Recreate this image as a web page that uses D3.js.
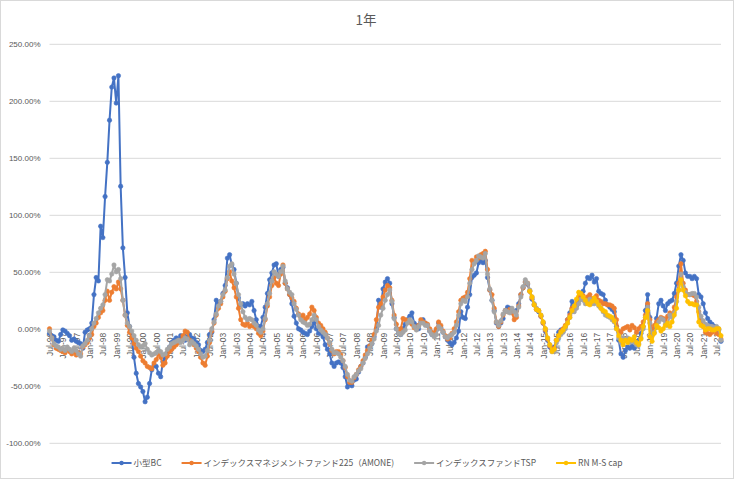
<!DOCTYPE html>
<html><head><meta charset="utf-8">
<script src="https://cdn.jsdelivr.net/npm/d3@7/dist/d3.min.js"></script>
<style>
body{margin:0;background:#fff}
svg{display:block}
text{fill:#595959}
</style>
</head><body>
<svg id="chart" width="734" height="479"></svg>
<script>
// ---------- data ----------
const chartTitle = "1年";
const seriesNames = ["小型BC", "インデックスマネジメントファンド225（AMONE)", "インデックスファンドTSP", "RN M-S cap"];
const seriesColors = ["#4472C4", "#ED7D31", "#A5A5A5", "#FFC000"];
const firstMonth = [1996, 7];   // Jul-96
const lastMonth = [2021, 9];    // Sep-21
const rnStartLabel = "Jul-14";  // first month of RN M-S cap
const yTicks = [-100, -50, 0, 50, 100, 150, 200, 250];
const tickLabels = ["Jul-96","Jan-97","Jul-97","Jan-98","Jul-98","Jan-99","Jul-99","Jan-00","Jul-00","Jan-01","Jul-01","Jan-02","Jul-02","Jan-03","Jul-03","Jan-04","Jul-04","Jan-05","Jul-05","Jan-06","Jul-06","Jan-07","Jul-07","Jan-08","Jul-08","Jan-09","Jul-09","Jan-10","Jul-10","Jan-11","Jul-11","Jan-12","Jul-12","Jan-13","Jul-13","Jan-14","Jul-14","Jan-15","Jul-15","Jan-16","Jul-16","Jan-17","Jul-17","Jan-18","Jul-18","Jan-19","Jul-19","Jan-20","Jul-20","Jan-21","Jul-21"];

const smallBC = [
-4,-6,-7,-10,-11,-5,-1,-2,-4,-6,-10,-9,-11,-12,-13,-17,-3,-1,0,
5,30,45,42,90,80,116,146,183,212,220,198,222,125,71,45,14,2,
-8,-25,-39,-48,-51,-55,-64,-60,-48,-36,-32,-33,-39,-42,-29,-26,-21,-16,-12,
-10,-8,-9,-6,-8,-10,-7,-5,-8,-9,-12,-14,-19,-20,-18,-12,-5,
-3,8,25,22,24,31,38,62,65,56,52,40,27,21,22,20,22,21,
24,16,8,2,2,10,19,31,43,49,56,57,46,52,54,40,36,30,22,11,5,0,-1,-3,-4,-5,-2,2,6,0,-4,-4,-7,-14,-18,-22,-30,-33,-30,-29,-30,-34,-42,-51,-48,
-50,-45,-44,-38,-33,-30,-25,-16,-15,-13,-7,0,25,19,35,41,44,40,22,10,0,-4,-5,0,4,8,11,14,5,3,0,6,8,5,3,-2,-5,-6,-1,5,1,-3,-7,-10,-12,
-14,-12,-8,-2,15,10,9,19,30,45,47,49,58,60,58,60,45,34,25,16,5,2,5,9,16,19,18,16,15,16,22,30,36,41,39,33,26,21,17,15,11,5,-2,-10,-16,
-18,-16,-10,-3,-1,-2,2,8,14,24,18,20,25,31,33,40,45,44,47,41,44,33,31,30,25,21,19,17,15,2,-10,-22,-25,-19,-16,-17,-15,-17,-13,-10,
-4,2,16,30,10,-5,0,9,22,25,20,16,22,24,25,31,40,55,65,60,49,46,46,44,46,44,30,28,22,14,9,6,4,2,0,-1,-11];

const amone225 = [
0,-8,-14,-17,-18,-19,-20,-21,-18,-20,-22,-20,-23,-21,-22,-16,-14,-12,-8,
-5,2,5,10,14,16,25,33,25,32,37,35,41,35,25,12,3,-3,
-8,-13,-17,-20,-24,-28,-30,-33,-34,-35,-30,-27,-22,-25,-32,-30,-24,-20,-18,
-16,-14,-12,-10,-6,-2,-3,-10,-12,-14,-17,-20,-25,-30,-32,-24,-12,
-2,5,12,18,22,28,33,44,50,42,36,28,18,8,4,3,5,2,
3,2,0,-4,-6,-2,8,20,28,38,45,40,38,48,56,40,35,30,27,24,18,13,10,12,8,10,13,19,16,10,5,3,0,-3,-8,-13,-19,-22,-20,-20,-23,-28,-34,-42,-47,
-47,-43,-40,-36,-33,-28,-23,-19,-15,-10,-5,8,19,22,28,34,38,36,25,12,4,-1,0,9,8,7,6,4,1,0,3,8,6,5,4,0,-3,-4,0,6,3,-2,-6,-9,-8,
-4,0,6,15,25,27,28,32,44,60,58,63,62,65,66,68,52,34,30,18,6,2,6,12,16,15,17,14,8,10,20,30,36,41,40,33,27,21,17,16,11,5,-1,-9,-15,
-18,-17,-10,-6,-2,0,3,8,12,18,17,22,28,30,29,26,28,30,26,27,29,25,24,22,22,21,21,20,18,8,-2,-3,0,1,2,-1,3,1,-3,0,
2,6,12,22,8,-2,3,6,8,10,9,8,11,14,12,19,28,40,57,40,34,30,30,30,29,24,15,8,2,-3,-4,-5,-3,-1,-4,-5,-9];

const indexTSP = [
-2,-8,-13,-15,-16,-18,-17,-19,-16,-18,-20,-17,-19,-22,-24,-15,-13,-10,-6,
0,5,9,14,18,21,30,43,42,48,56,50,52,44,25,12,5,2,
-2,-6,-10,-14,-16,-15,-13,-18,-21,-23,-22,-21,-19,-20,-23,-22,-18,-16,-13,
-12,-11,-10,-12,-10,-8,-9,-14,-11,-13,-15,-18,-22,-25,-24,-19,-10,
0,6,13,20,24,30,34,45,55,57,48,40,30,22,15,10,8,9,
8,5,3,-1,-3,0,9,22,31,42,50,48,46,50,55,42,35,32,30,22,17,12,8,6,5,3,4,8,12,8,2,-1,-3,-5,-8,-12,-18,-21,-21,-22,-25,-28,-33,-40,-45,
-46,-42,-40,-37,-35,-30,-26,-22,-17,-13,-9,-2,3,12,18,25,30,34,24,9,0,-4,-5,-3,-1,5,8,6,2,-1,2,5,5,3,3,-2,-5,-7,-5,2,0,-3,-7,-8,-6,
-5,-3,3,12,22,25,24,28,40,52,57,60,64,63,62,66,48,35,25,15,6,3,7,13,16,15,14,18,15,12,19,28,37,43,40,34,28,22,18,16,12,6,0,-8,-14,
-20,-20,-12,-8,-5,-3,0,5,10,15,15,18,22,26,25,22,24,26,22,22,24,20,18,15,12,11,10,8,6,0,-8,-12,-8,-10,-8,-12,-10,-12,-14,-13,
-8,0,10,19,5,-6,-3,2,6,9,8,4,3,12,10,14,24,34,48,37,32,30,30,31,31,28,19,11,7,4,3,2,2,1,2,0,-10];

const rnMScap = [
33,28,21,17,16,12,6,0,-8,-14,
-20,-18,-10,-6,-3,-1,2,5,10,16,20,26,32,31,28,25,22,21,24,27,24,21,18,16,15,12,11,10,7,0,
-6,-10,-14,-10,-12,-9,-10,-7,-12,-14,-9,2,10,16,-7,-11,-4,3,1,-2,0,3,5,2,6,12,18,34,43,34,
29,24,22,22,21,21,6,3,2,-1,0,0,-1,-1,0,0,-6];

// ---------- layout ----------
const W = 734, H = 479;
const plot = {left: 49.5, right: 721, top: 43.8, bottom: 442.8};
const svg = d3.select("#chart");
const fmt = d3.timeFormat("%b-%y");
const months = d3.timeMonth.range(new Date(firstMonth[0], firstMonth[1]-1, 1), new Date(lastMonth[0], lastMonth[1], 1)).map(fmt);

const x = d3.scalePoint().domain(months).range([plot.left, plot.right]);
const y = d3.scaleLinear().domain([d3.min(yTicks), d3.max(yTicks)]).range([plot.bottom, plot.top]);

// chart border
svg.append("rect").attr("x",0.5).attr("y",0.5).attr("width",W-1).attr("height",H-1)
  .attr("fill","#fff").attr("stroke","#D9D9D9").attr("stroke-width",1);

// title
svg.append("text").attr("x", 366).attr("y", 25).attr("text-anchor","middle")
  .style("font-family","'Noto Sans CJK JP','Liberation Sans',Arial,sans-serif")
  .style("font-size","13.5px").text(chartTitle);

// y axis with gridlines
const yAxis = svg.append("g").attr("transform",`translate(${plot.left},0)`)
  .call(d3.axisLeft(y).tickValues(yTicks).tickSize(-(plot.right-plot.left)).tickPadding(9)
    .tickFormat(d => d.toFixed(2) + "%"));
yAxis.select(".domain").remove();
yAxis.selectAll("line").attr("stroke","#D9D9D9").attr("stroke-width",1);
yAxis.selectAll("text").style("font-family","'Liberation Sans',Arial,sans-serif").style("font-size","8px").attr("fill","#595959");

// x axis at zero
const xAxis = svg.append("g").attr("transform",`translate(0,${y(0)})`)
  .call(d3.axisBottom(x).tickValues(tickLabels).tickSize(0));
xAxis.select(".domain").attr("stroke","#D9D9D9");
xAxis.selectAll("text")
  .attr("transform","rotate(-90)").attr("text-anchor","end")
  .attr("x",-4).attr("y",0).attr("dy","0.35em")
  .style("font-family","'Liberation Sans',Arial,sans-serif").style("font-size","8.5px").attr("fill","#595959");

// series
const rnOffset = months.indexOf(rnStartLabel);
const series = [
  {vals: smallBC, off: 0},
  {vals: amone225, off: 0},
  {vals: indexTSP, off: 0},
  {vals: rnMScap, off: rnOffset}
];
series.forEach((s, k) => {
  const pts = s.vals.map((v, i) => ({m: months[i + s.off], v}));
  const line = d3.line().x(d => x(d.m)).y(d => y(d.v));
  const g = svg.append("g");
  g.append("path").datum(pts).attr("d", line).attr("fill","none")
    .attr("stroke", seriesColors[k]).attr("stroke-width", 2).attr("stroke-linejoin","round");
  g.selectAll("circle").data(pts).join("circle")
    .attr("cx", d => x(d.m)).attr("cy", d => y(d.v)).attr("r", 2.2)
    .attr("fill", seriesColors[k]).attr("stroke", seriesColors[k]).attr("stroke-width", 0.6);
});

// legend
const legend = svg.append("g");
let cx = 0;
const items = [];
seriesNames.forEach((name, k) => {
  const g = legend.append("g");
  g.append("line").attr("x1",0).attr("x2",20).attr("y1",0).attr("y2",0)
    .attr("stroke",seriesColors[k]).attr("stroke-width",2);
  g.append("circle").attr("cx",10).attr("cy",0).attr("r",2.2).attr("fill",seriesColors[k]);
  const t = g.append("text").attr("x",22).attr("y",0).attr("dy","0.35em")
    .style("font-family","'Noto Sans CJK JP','Liberation Sans',sans-serif").style("font-size","8.5px")
    .text(name);
  const w = 22 + t.node().getComputedTextLength();
  g.attr("transform",`translate(${cx},0)`);
  cx += w + 20;
});
const totalW = cx - 20;
legend.attr("transform",`translate(${367 - totalW/2},463)`);
</script>
</body></html>
